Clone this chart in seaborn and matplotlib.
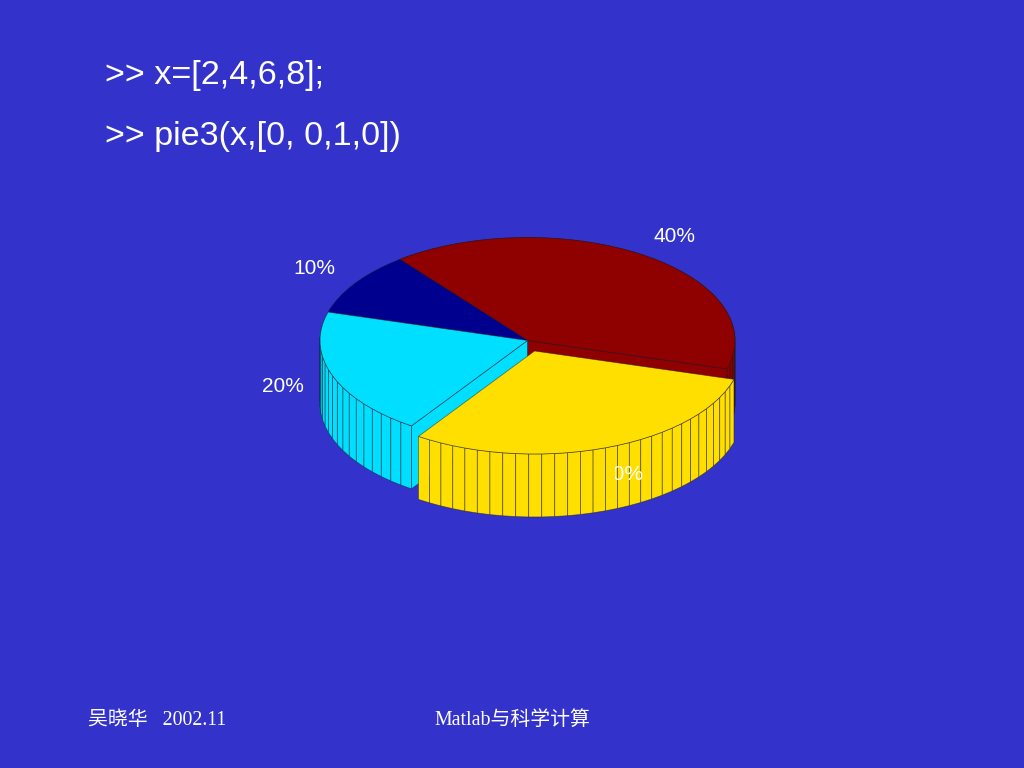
import numpy as np
import matplotlib
matplotlib.use("Agg")
import matplotlib.pyplot as plt
from matplotlib.patches import Polygon, Rectangle
import seaborn as sns

# ---- data ----
values = [2, 4, 6, 8]
explode = [0, 0, 1, 0]
labels = ["10%", "20%", "30%", "40%"]
colors = ["#00008F", "#00DFFF", "#FFDF00", "#8F0000"]
command_lines = [">> x=[2,4,6,8];", ">> pie3(x,[0, 0,1,0])"]
footer_left = "吴晓华   2002.11"
footer_center = "Matlab与科学计算"

# ---- style / layout ----
BG = "#3333CC"
sns.set_theme(style="white", rc={"figure.facecolor": BG, "axes.facecolor": BG})
palette = sns.color_palette(colors)
SANS = ["Liberation Sans", "DejaVu Sans"]
SERIF = ["Liberation Serif", "Noto Sans CJK SC", "DejaVu Sans"]

CX, CY, RX, RY = 527.5, 340.5, 207.5, 103.0
HEIGHT = 63.0
START_DEG = 128.0
EXPLODE_DX, EXPLODE_DY = 7.0, 10.5
EDGE = dict(edgecolor=(0.1, 0.1, 0.1, 0.55), linewidth=0.55, joinstyle="round")

fig = plt.figure(figsize=(10.24, 7.68), dpi=100, facecolor=BG)
ax = fig.add_axes([0, 0, 1, 1])
ax.set_xlim(0, 1024)
ax.set_ylim(768, 0)
ax.axis("off")

total = sum(values)
bounds = START_DEG + np.concatenate([[0], np.cumsum(values)]) / total * 360.0


def wedge_geometry(i):
    n = max(2, int(round(values[i] / total * 100)))
    ang = np.radians(np.linspace(bounds[i], bounds[i + 1], n + 1))
    dx = EXPLODE_DX * explode[i]
    dy = EXPLODE_DY * explode[i]
    cx, cy = CX + dx, CY + dy
    x = cx + RX * np.cos(ang)
    y = cy - RY * np.sin(ang)
    return cx, cy, x, y


def poly(pts, color, z):
    ax.add_patch(Polygon(pts, closed=True, facecolor=color, zorder=z, **EDGE))


def draw_top(i, z):
    cx, cy, x, y = wedge_geometry(i)
    poly(np.vstack([[cx, cy], np.column_stack([x, y])]), palette[i], z)


def draw_rim(i, z):
    cx, cy, x, y = wedge_geometry(i)
    for k in range(len(x) - 1):
        poly([(x[k], y[k]), (x[k + 1], y[k + 1]),
              (x[k + 1], y[k + 1] + HEIGHT), (x[k], y[k] + HEIGHT)], palette[i], z)


def draw_wall(i, end, z):
    cx, cy, x, y = wedge_geometry(i)
    poly([(cx, cy), (x[end], y[end]),
          (x[end], y[end] + HEIGHT), (cx, cy + HEIGHT)], palette[i], z)


# back to front: dark red, dark blue, cyan, exploded yellow
draw_rim(3, 2)
draw_wall(3, 0, 3)
draw_top(3, 4)
draw_top(0, 5)
draw_rim(1, 6)
draw_wall(1, -1, 7)
draw_top(1, 8)
draw_rim(2, 10)
draw_top(2, 11)

# the 30% label sits behind the yellow side, only its right part shows
label_pos = [(314, 268), (283, 386), (622, 475), (675, 236)]
for i, (lab, pos) in enumerate(zip(labels, label_pos)):
    t = ax.text(pos[0], pos[1], lab, color="white", fontsize=15, family=SANS,
                ha="center", va="center", zorder=20)
    if explode[i]:
        t.set_clip_on(True)
        t.set_clip_path(Rectangle((615, 450), 40, 50, transform=ax.transData))

# texts
ax.text(105, 84, command_lines[0], color="white", fontsize=24.6, family=SANS, va="baseline")
ax.text(105, 145, command_lines[1], color="white", fontsize=24.6, family=SANS, va="baseline")
ax.text(88, 725, footer_left, color="white", fontsize=14.3, family=SERIF, va="baseline")
ax.text(434, 725, footer_center, color="white", fontsize=14.3, family=SERIF, va="baseline")

fig.savefig("out.png", dpi=100, facecolor=BG)
